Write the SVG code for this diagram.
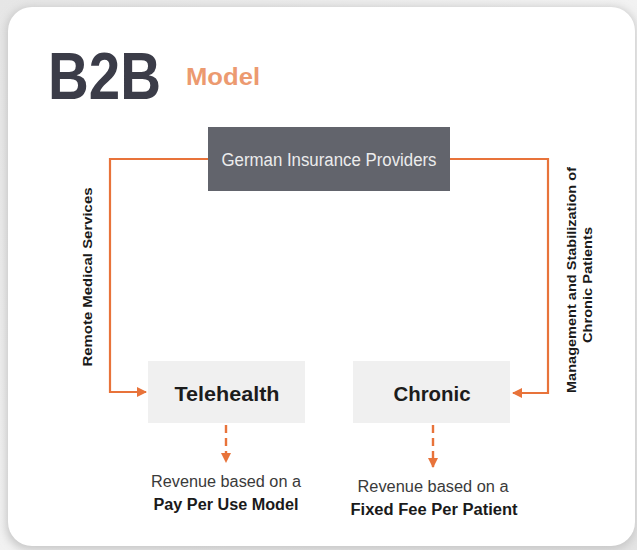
<svg xmlns="http://www.w3.org/2000/svg" width="637" height="550" viewBox="0 0 637 550">
<defs>
<linearGradient id="bg" x1="0" y1="0" x2="1" y2="1">
<stop offset="0" stop-color="#e6e6e6"/>
<stop offset="0.5" stop-color="#f2f2f2"/>
<stop offset="1" stop-color="#e4e4e4"/>
</linearGradient>
<filter id="sh" x="-10%" y="-10%" width="120%" height="120%">
<feGaussianBlur stdDeviation="4"/>
</filter>
<marker id="ah" viewBox="0 0 10 10" refX="9" refY="5" markerWidth="10" markerHeight="10" markerUnits="userSpaceOnUse" orient="auto">
<path d="M0,0 L10,5 L0,10 z" fill="#e8733a"/>
</marker>
</defs>
<style>
.conn{fill:none;stroke:#e8733a;stroke-width:2.2}
.dash{fill:none;stroke:#e8733a;stroke-width:2.4;stroke-dasharray:8 5}
.lbl{font-family:"Liberation Sans",Arial,sans-serif;font-weight:bold;font-size:13px;fill:#1a1a1a}
.box{fill:#f0f0f0}
.bt{font-family:"Liberation Sans",Arial,sans-serif;font-weight:bold;font-size:21px;fill:#1c1c1c;text-anchor:middle}
.r1{font-family:"Liberation Sans",Arial,sans-serif;font-size:16px;fill:#3a3a3a;text-anchor:middle}
.r2{font-family:"Liberation Sans",Arial,sans-serif;font-weight:bold;font-size:16px;fill:#1a1a1a;text-anchor:middle}
</style>
<rect x="0" y="0" width="637" height="550" fill="url(#bg)"/>
<rect x="6" y="7" width="630" height="543" rx="24" fill="#c8c8c8" filter="url(#sh)"/>
<rect x="8" y="7" width="627" height="539" rx="24" fill="#ffffff"/>

<g id="title">
<text x="48" y="99" font-family="'Liberation Sans',Arial,sans-serif" font-weight="bold" font-size="66" fill="#3b3c48" textLength="113" lengthAdjust="spacingAndGlyphs">B2B</text>
<text x="186" y="85" font-family="'Liberation Sans',Arial,sans-serif" font-weight="bold" font-size="24" fill="#ec9a70" textLength="74" lengthAdjust="spacingAndGlyphs">Model</text>
</g>

<g id="connectors">
<polyline class="conn" points="208,159 110,159 110,392 146,392" marker-end="url(#ah)"/>
<polyline class="conn" points="450,159 548,159 548,393 513,393" marker-end="url(#ah)"/>
<line class="dash" x1="226" y1="425" x2="226" y2="462" marker-end="url(#ah)"/>
<line class="dash" x1="433" y1="425" x2="433" y2="467" marker-end="url(#ah)"/>
</g>

<g id="providers">
<rect x="208" y="127" width="242" height="64" fill="#62646c"/>
<text x="329" y="166" font-family="'Liberation Sans',Arial,sans-serif" font-size="18" fill="#ececec" text-anchor="middle" textLength="215" lengthAdjust="spacingAndGlyphs">German Insurance Providers</text>
</g>

<g id="label-remote">
<text class="lbl" transform="translate(92,277) rotate(-90)" text-anchor="middle" textLength="179" lengthAdjust="spacingAndGlyphs">Remote Medical Services</text>
</g>

<g id="label-chronic">
<text class="lbl" transform="translate(576,280) rotate(-90)" text-anchor="middle" textLength="226" lengthAdjust="spacingAndGlyphs">Management and Stabilization of</text>
<text class="lbl" transform="translate(592,285) rotate(-90)" text-anchor="middle" textLength="116" lengthAdjust="spacingAndGlyphs">Chronic Patients</text>
</g>

<g id="telehealth">
<rect class="box" x="148" y="361" width="157" height="62"/>
<text class="bt" x="227" y="401" textLength="105" lengthAdjust="spacingAndGlyphs">Telehealth</text>
</g>

<g id="chronic">
<rect class="box" x="353" y="361" width="157" height="62"/>
<text class="bt" x="432" y="401" textLength="77" lengthAdjust="spacingAndGlyphs">Chronic</text>
</g>

<g id="revenue-telehealth">
<text class="r1" x="226" y="487" textLength="150" lengthAdjust="spacingAndGlyphs">Revenue based on a</text>
<text class="r2" x="226" y="510" textLength="145" lengthAdjust="spacingAndGlyphs">Pay Per Use Model</text>
</g>

<g id="revenue-chronic">
<text class="r1" x="433" y="492" textLength="151" lengthAdjust="spacingAndGlyphs">Revenue based on a</text>
<text class="r2" x="434" y="515" textLength="167" lengthAdjust="spacingAndGlyphs">Fixed Fee Per Patient</text>
</g>
</svg>
